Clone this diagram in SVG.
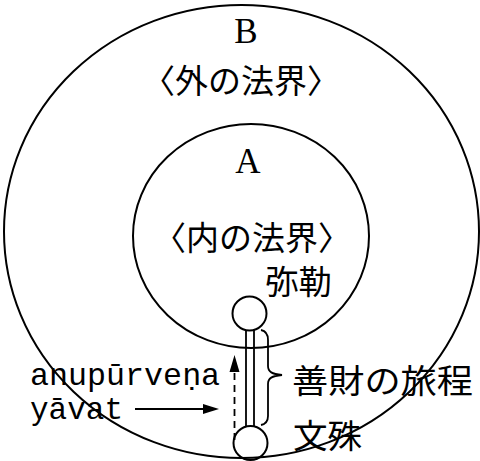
<svg xmlns="http://www.w3.org/2000/svg" width="480" height="461" viewBox="0 0 480 461">
<style>
.ring{fill:none;stroke:#000;stroke-width:2}
.ln{fill:none;stroke:#000;stroke-width:1.8}
.jp{font-family:"Noto Sans CJK JP","Noto Sans CJK SC",sans-serif;font-size:33px;fill:#000}
.lat{font-family:"Liberation Serif","DejaVu Serif",serif;font-size:35px;fill:#000}
.mono{font-family:"Liberation Mono","DejaVu Sans Mono",monospace;font-size:32px;fill:#000}
</style>
<rect width="480" height="461" fill="#fff"/>
<g id="outer-B">
  <ellipse class="ring" cx="241.5" cy="231.5" rx="237.5" ry="226.5"/>
  <text class="lat" x="246" y="43" text-anchor="middle">B</text>
  <text class="jp" x="241" y="93" text-anchor="middle">〈外の法界〉</text>
</g>
<g id="inner-A">
  <ellipse class="ring" cx="251" cy="236" rx="118" ry="112"/>
  <text class="lat" x="248" y="173" text-anchor="middle">A</text>
  <text class="jp" x="252" y="250" text-anchor="middle">〈内の法界〉</text>
</g>
<g id="miroku">
  <circle class="ring" cx="249.5" cy="313.5" r="17"/>
  <text class="jp" x="265" y="294" textLength="67" lengthAdjust="spacingAndGlyphs">弥勒</text>
</g>
<g id="monju">
  <circle class="ring" cx="250.5" cy="443" r="17"/>
  <text class="jp" x="293" y="448" textLength="69" lengthAdjust="spacingAndGlyphs">文殊</text>
</g>
<g id="label-journey">
  <text class="jp" x="292" y="393" textLength="181" lengthAdjust="spacingAndGlyphs">善財の旅程</text>
</g>
<g id="label-skt">
  <text class="mono" x="30" y="385" textLength="190" lengthAdjust="spacingAndGlyphs">anupūrveṇa</text>
  <text class="mono" x="30" y="419" textLength="93" lengthAdjust="spacingAndGlyphs">yāvat</text>
</g>
<g id="connectors">
  <line class="ln" x1="246" y1="330" x2="246" y2="426"/>
  <line class="ln" x1="254" y1="330" x2="254" y2="426"/>
  <line class="ln" x1="234.5" y1="440" x2="234.5" y2="370" stroke-dasharray="7 5"/>
  <polygon points="234.5,355 229.5,372 239.5,372" fill="#000"/>
  <line class="ln" x1="135" y1="409" x2="205" y2="409"/>
  <polygon points="219,409 203,404 203,414" fill="#000"/>
  <path class="ln" d="M261,330 C266,331 268,334 268,340 L268,366 C268,372 272,374 282,375 C272,376 268,378 268,384 L268,416 C268,421 266,424 261,425"/>
</g>
</svg>
